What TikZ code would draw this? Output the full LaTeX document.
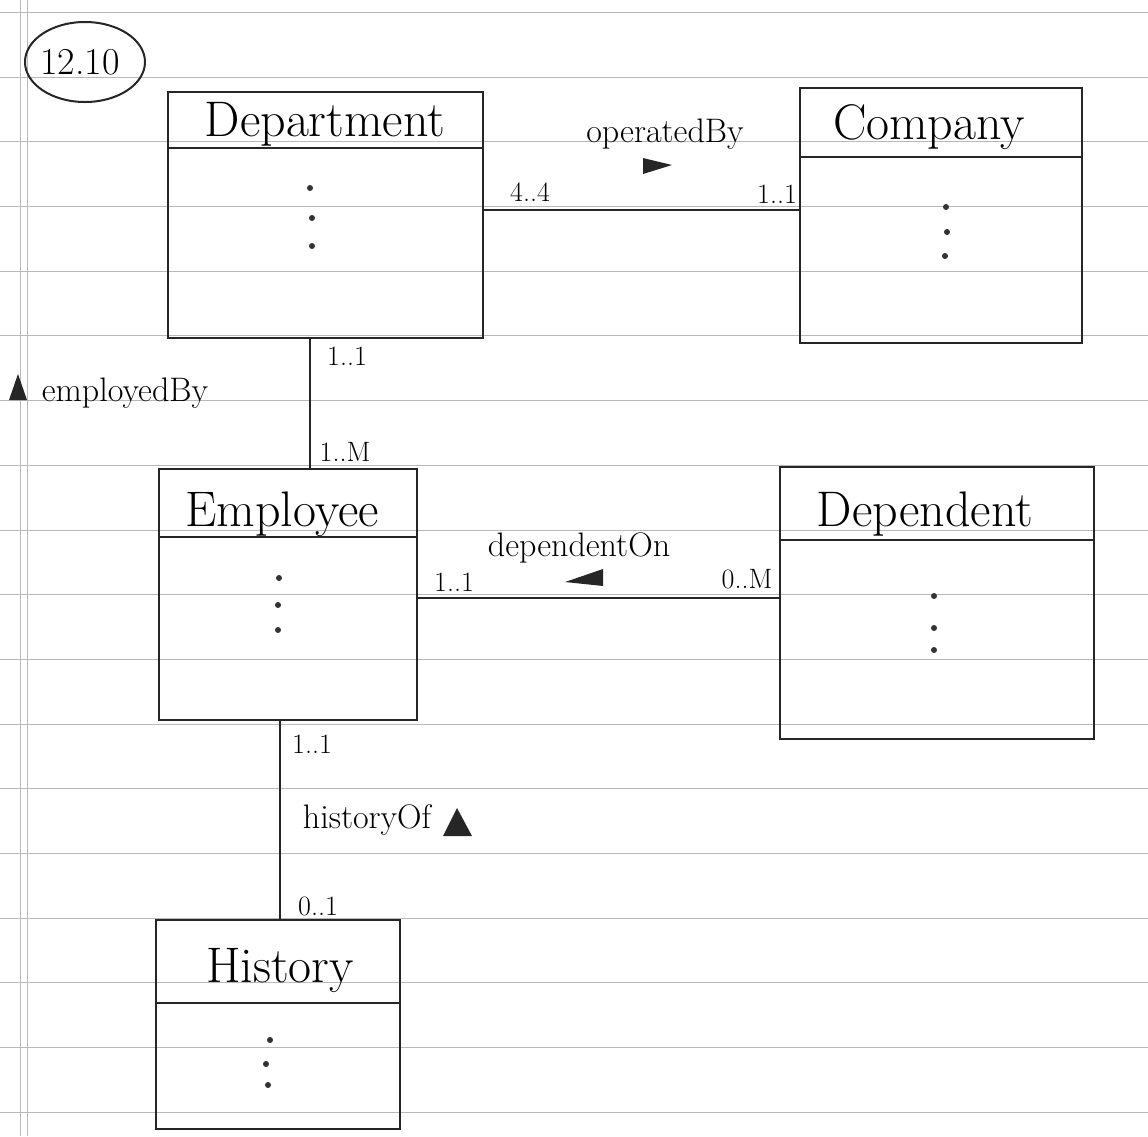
\documentclass[tikz,border=0pt]{standalone}
\usepackage{fontspec}
\usetikzlibrary{calc,shapes.geometric}
\begin{document}
\begin{tikzpicture}[x=1pt,y=-1pt,
  paper/.style={draw=gray!55, line width=0.8pt},
  classbox/.style={draw=black!85, line width=2pt, rectangle, inner sep=0pt},
  sep/.style={draw=black!85, line width=2pt},
  assoc/.style={draw=black!85, line width=2pt},
  cname/.style={font=\fontsize{50}{54}\selectfont, inner sep=0pt},
  aname/.style={font=\fontsize{34}{38}\selectfont, inner sep=0pt},
  mult/.style={font=\fontsize{28}{32}\selectfont, inner sep=0pt},
  dotm/.style={fill=black!80},
  tri/.style={fill=black!85}]
\useasboundingbox (0,0) rectangle (1148,1136);
\fill[white] (0,0) rectangle (1148,1136);
% lined paper
\foreach \k in {0,...,17} {\draw[paper] (0,12.3+64.7*\k) -- (1148,12.3+64.7*\k);}
\draw[paper] (20,0) -- (20,1136);
\draw[paper] (27,0) -- (27,1136);
% exercise number
\node[draw=black!85, line width=2pt, ellipse, minimum width=120pt, minimum height=80pt, inner sep=0pt] (num) at (85,62) {};
\node[font=\fontsize{38}{42}\selectfont, inner sep=0pt] (numtxt) at (80,62) {12.10};
% classes
\node[classbox, minimum width=315pt, minimum height=246pt] (dept) at (325.5,215) {};
\node[classbox, minimum width=282pt, minimum height=255pt] (comp) at (941,215.5) {};
\node[classbox, minimum width=258pt, minimum height=251pt] (emp) at (288,594.5) {};
\node[classbox, minimum width=314pt, minimum height=272pt] (dep) at (937,603) {};
\node[classbox, minimum width=244pt, minimum height=209pt] (hist) at (278,1024.5) {};
% separators
\draw[sep] (dept.west |- 0,148) -- (dept.east |- 0,148);
\draw[sep] (comp.west |- 0,157) -- (comp.east |- 0,157);
\draw[sep] (emp.west |- 0,537) -- (emp.east |- 0,537);
\draw[sep] (dep.west |- 0,540) -- (dep.east |- 0,540);
\draw[sep] (hist.west |- 0,1003) -- (hist.east |- 0,1003);
% class names
\node[cname] (deptname) at (325,124) {Department};
\node[cname] (compname) at (929,127) {Company};
\node[cname] (empname) at (282,514) {Employee};
\node[cname] (depname) at (925,514) {Dependent};
\node[cname] (histname) at (280,970) {History};
% attribute dots
\foreach \p in {(310,188),(312,218),(312,246),(946,207),(947,232),(945,256),(279,578),(278,605),(278,630),(934,596),(934,628),(934,650),(270,1040),(266,1064),(268,1085)}
  {\fill[dotm] \p circle (3pt);}
% associations
\draw[assoc] ([yshift=5pt]dept.east) -- ([yshift=5.5pt]comp.west);
\draw[assoc] ([xshift=-15.5pt]dept.south) -- ([xshift=22pt]emp.north);
\draw[assoc] ([yshift=-3.5pt]emp.east) -- ([yshift=5pt]dep.west);
\draw[assoc] ([xshift=-8pt]emp.south) -- ([xshift=2pt]hist.north);
% association names and direction triangles
\node[aname] (opby) at (665,134) {operatedBy};
\fill[tri] (643,158) -- (672,165) -- (643,174) -- cycle;
\node[aname] (empby) at (125,393) {employedBy};
\fill[tri] (18,374) -- (27,400) -- (9,400) -- cycle;
\node[aname] (depon) at (579,548) {dependentOn};
\fill[tri] (565,582) -- (603,569) -- (603,586) -- cycle;
\node[aname] (histof) at (367,820) {historyOf};
\fill[tri] (457,808) -- (472,836) -- (443,836) -- cycle;
% multiplicities
\node[mult] (m1) at (530,192) {4..4};
\node[mult] (m2) at (777,194) {1..1};
\node[mult] (m3) at (347,356) {1..1};
\node[mult] (m4) at (345,452) {1..M};
\node[mult] (m5) at (454,582) {1..1};
\node[mult] (m6) at (747,579) {0..M};
\node[mult] (m7) at (312,744) {1..1};
\node[mult] (m8) at (318,906) {0..1};
\end{tikzpicture}
\end{document}
